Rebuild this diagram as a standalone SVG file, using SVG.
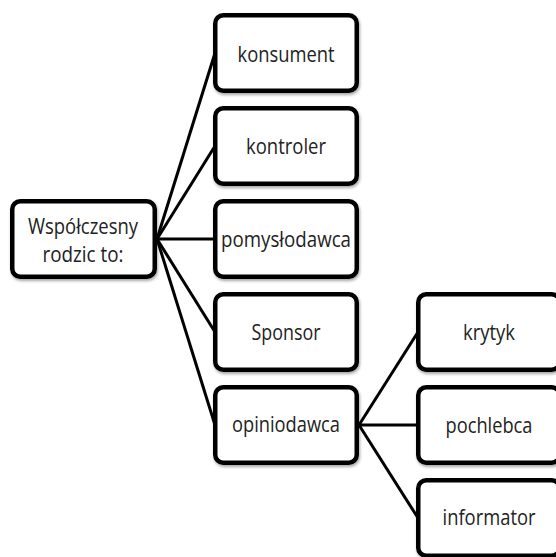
<svg xmlns="http://www.w3.org/2000/svg" width="556" height="557" viewBox="0 0 556 557">
<defs>
<filter id="sh" x="-10%" y="-10%" width="130%" height="130%">
<feGaussianBlur in="SourceAlpha" stdDeviation="1.5"/>
<feOffset dx="1" dy="2" result="b"/>
<feComponentTransfer><feFuncA type="linear" slope="0.35"/></feComponentTransfer>
<feMerge><feMergeNode/><feMergeNode in="SourceGraphic"/></feMerge>
</filter>
</defs>
<style>
.box{fill:#ffffff;stroke:#000000;stroke-width:4.5;filter:url(#sh)}
.lbl{font-family:"Open Sans","Liberation Sans",sans-serif;font-size:21px;fill:#222222;text-anchor:middle}
.ln{stroke:#000000;stroke-width:3;fill:none}
</style>
<rect width="556" height="557" fill="#ffffff"/>
<g id="connectors">
<line class="ln" x1="157" y1="239" x2="215" y2="53"/>
<line class="ln" x1="157" y1="239" x2="215" y2="146"/>
<line class="ln" x1="157" y1="239" x2="215" y2="239"/>
<line class="ln" x1="157" y1="239" x2="215" y2="332"/>
<line class="ln" x1="157" y1="239" x2="215" y2="425"/>
<line class="ln" x1="359" y1="425" x2="418" y2="332"/>
<line class="ln" x1="359" y1="425" x2="418" y2="425"/>
<line class="ln" x1="359" y1="425" x2="418" y2="518"/>
</g>
<g id="root">
<rect class="box" x="12.25" y="201.25" width="142.5" height="75.5" rx="8"/>
<text class="lbl" x="83" y="234" textLength="110" lengthAdjust="spacingAndGlyphs">Współczesny</text>
<text class="lbl" x="83" y="262" textLength="81" lengthAdjust="spacingAndGlyphs">rodzic to:</text>
</g>
<g id="konsument">
<rect class="box" x="215.25" y="15.25" width="141.5" height="75.5" rx="8"/>
<text class="lbl" x="286" y="62" textLength="97" lengthAdjust="spacingAndGlyphs">konsument</text>
</g>
<g id="kontroler">
<rect class="box" x="215.25" y="108.25" width="141.5" height="75.5" rx="8"/>
<text class="lbl" x="286" y="154" textLength="80" lengthAdjust="spacingAndGlyphs">kontroler</text>
</g>
<g id="pomyslodawca">
<rect class="box" x="215.25" y="201.25" width="141.5" height="75.5" rx="8"/>
<text class="lbl" x="286" y="247" textLength="130" lengthAdjust="spacingAndGlyphs">pomysłodawca</text>
</g>
<g id="sponsor">
<rect class="box" x="215.25" y="294.25" width="141.5" height="75.5" rx="8"/>
<text class="lbl" x="286" y="340" textLength="69" lengthAdjust="spacingAndGlyphs">Sponsor</text>
</g>
<g id="opiniodawca">
<rect class="box" x="215.25" y="387.25" width="141.5" height="75.5" rx="8"/>
<text class="lbl" x="286" y="432" textLength="108" lengthAdjust="spacingAndGlyphs">opiniodawca</text>
</g>
<g id="krytyk">
<rect class="box" x="418.25" y="294.25" width="141.5" height="75.5" rx="8"/>
<text class="lbl" x="489" y="340" textLength="52" lengthAdjust="spacingAndGlyphs">krytyk</text>
</g>
<g id="pochlebca">
<rect class="box" x="418.25" y="387.25" width="141.5" height="75.5" rx="8"/>
<text class="lbl" x="489" y="433" textLength="87" lengthAdjust="spacingAndGlyphs">pochlebca</text>
</g>
<g id="informator">
<rect class="box" x="418.25" y="480.25" width="141.5" height="75.5" rx="8"/>
<text class="lbl" x="489" y="525" textLength="93" lengthAdjust="spacingAndGlyphs">informator</text>
</g>
</svg>
